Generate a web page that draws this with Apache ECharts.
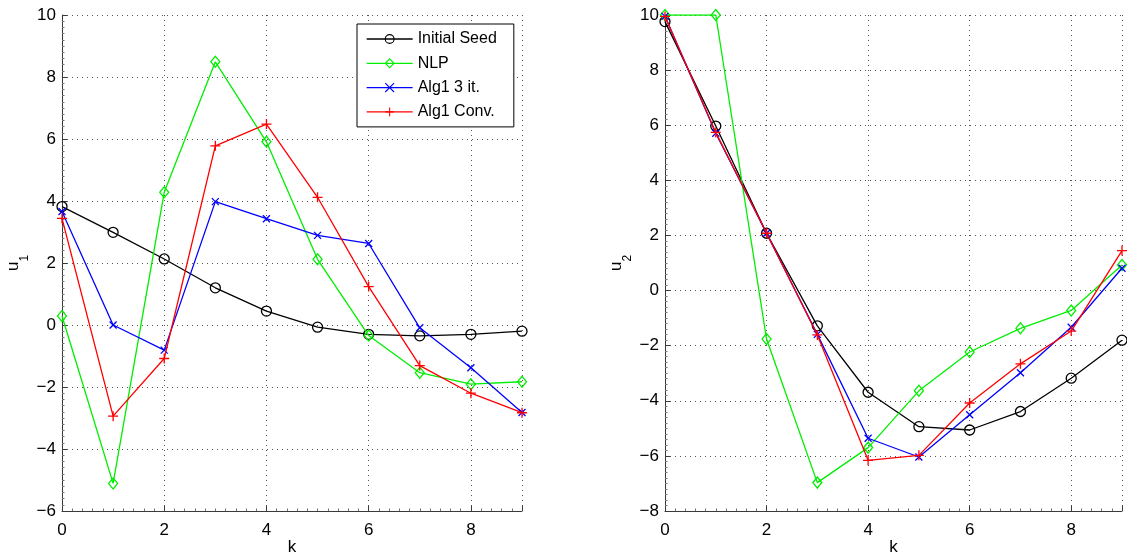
<!DOCTYPE html>
<html>
<head>
<meta charset="utf-8">
<script src="https://cdn.jsdelivr.net/npm/echarts@6/dist/echarts.min.js"></script>
<style>
  html, body { margin: 0; padding: 0; background: #fff; }
  #chart { width: 1127px; height: 559px; }
</style>
</head>
<body>
<div id="chart"></div>
<script>
// Time steps
const ks = [0, 1, 2, 3, 4, 5, 6, 7, 8, 9];

// Input u1 per method
const u1Seed = [3.82, 2.99, 2.13, 1.20, 0.45, -0.07, -0.30, -0.35, -0.30, -0.20];
const u1Nlp  = [0.29, -5.11, 4.28, 8.49, 5.91, 2.12, -0.34, -1.54, -1.91, -1.83];
const u1Alg3 = [3.66, 0.00, -0.81, 3.98, 3.43, 2.89, 2.63, -0.09, -1.38, -2.82];
const u1Conv = [3.44, -2.94, -1.08, 5.78, 6.48, 4.12, 1.24, -1.31, -2.20, -2.83];

// Input u2 per method
const u2Seed = [9.76, 5.97, 2.08, -1.28, -3.69, -4.94, -5.06, -4.39, -3.18, -1.80];
const u2Nlp  = [10.0, 10.0, -1.76, -6.97, -5.70, -3.64, -2.23, -1.37, -0.72, 0.93];
const u2Alg3 = [9.95, 5.71, 2.08, -1.59, -5.36, -6.04, -4.51, -2.98, -1.33, 0.81];
const u2Conv = [9.95, 5.74, 2.08, -1.61, -6.16, -5.98, -4.08, -2.66, -1.47, 1.45];

const seriesNames = ['Initial Seed', 'NLP', 'Alg1 3 it.', 'Alg1 Conv.'];

const FONT = '"Liberation Sans", Arial, Helvetica, sans-serif';

const styles = [
  { color: '#000000', symbol: 'circle', size: 10 },
  { color: '#00ee00', symbol: 'diamond', size: [9, 11] },
  { color: '#0000ff', symbol: 'path://M0,0L10,10M0,10L10,0', size: 7 },
  { color: '#ff0000', symbol: 'path://M5,0L5,10M0,5L10,5', size: 10 }
];

const minus = v => String(v).replace('-', '\u2212');

function makeXAxis(gridIndex) {
  return {
    gridIndex, type: 'value', min: 0, max: 9, interval: 2,
    name: 'k', nameLocation: 'middle', nameGap: 28, nameMoveOverlap: false,
    nameTextStyle: { fontFamily: FONT, fontSize: 17, color: '#000' },
    axisLine: { show: true, onZero: false, lineStyle: { color: '#3a3a3a', width: 1 } },
    axisTick: { show: true, inside: true, length: 5, lineStyle: { color: '#3a3a3a' } },
    minorTick: { show: true, splitNumber: 10, length: 2.5, lineStyle: { color: '#777' } },
    axisLabel: {
      fontFamily: FONT, fontSize: 17, color: '#000', margin: 11, showMaxLabel: false,
      formatter: v => (v % 2 === 0 ? minus(v) : '')
    },
    splitLine: { show: true, lineStyle: { color: '#555', width: 1, type: [1, 4] } }
  };
}

function makeYAxis(gridIndex, min, sub) {
  return {
    gridIndex, type: 'value', min, max: 10, interval: 2,
    name: '{u|u}{s|' + sub + '}', nameLocation: 'middle', nameGap: 39, nameMoveOverlap: false,
    nameTextStyle: {
      fontFamily: FONT, color: '#000',
      rich: {
        u: { fontFamily: FONT, fontSize: 17, color: '#000', lineHeight: 20 },
        s: { fontFamily: FONT, fontSize: 12, color: '#000', verticalAlign: 'bottom', lineHeight: 20, padding: [0, 0, -8, 0] }
      }
    },
    axisLine: { show: true, onZero: false, lineStyle: { color: '#3a3a3a', width: 1 } },
    axisTick: { show: true, inside: true, length: 5, lineStyle: { color: '#3a3a3a' } },
    minorTick: { show: true, splitNumber: 10, length: 2.5, lineStyle: { color: '#777' } },
    axisLabel: { fontFamily: FONT, fontSize: 17, color: '#000', margin: 6, formatter: minus },
    splitLine: { show: true, lineStyle: { color: '#555', width: 1, type: [1, 4] } }
  };
}

function makeSeries(values, idx, axisIdx) {
  const st = styles[idx];
  return {
    type: 'line',
    name: seriesNames[idx],
    xAxisIndex: axisIdx, yAxisIndex: axisIdx,
    data: ks.map((k, i) => [k, values[i]]),
    symbol: st.symbol,
    symbolSize: st.size,
    showSymbol: true,
    showAllSymbol: true,
    lineStyle: { color: st.color, width: 1.3 },
    itemStyle: { color: 'rgba(0,0,0,0)', borderColor: st.color, borderWidth: 1.3 },
    emphasis: { disabled: true },
    z: 2 + idx
  };
}

const chart = echarts.init(document.getElementById('chart'), null, { renderer: 'canvas' });

chart.setOption({
  animation: false,
  backgroundColor: '#fff',
  grid: [
    { left: 62, top: 15, width: 460, height: 496, outerBoundsMode: 'none', containLabel: false },
    { left: 665, top: 15, width: 457, height: 496, outerBoundsMode: 'none', containLabel: false }
  ],
  xAxis: [makeXAxis(0), makeXAxis(1)],
  yAxis: [makeYAxis(0, -6, '1'), makeYAxis(1, -8, '2')],
  legend: {
    orient: 'vertical',
    left: 357, top: 24,
    padding: [7, 17, 7, 9],
    itemWidth: 46, itemHeight: 11, itemGap: 8.3,
    backgroundColor: '#fff',
    borderColor: '#000', borderWidth: 1,
    itemStyle: { borderWidth: 1.1 },
    lineStyle: { width: 1.3 },
    textStyle: { fontFamily: FONT, fontSize: 16, color: '#000' },
    data: seriesNames
  },
  series: [
    makeSeries(u1Seed, 0, 0),
    makeSeries(u1Nlp, 1, 0),
    makeSeries(u1Alg3, 2, 0),
    makeSeries(u1Conv, 3, 0),
    makeSeries(u2Seed, 0, 1),
    makeSeries(u2Nlp, 1, 1),
    makeSeries(u2Alg3, 2, 1),
    makeSeries(u2Conv, 3, 1)
  ]
});
</script>
</body>
</html>
